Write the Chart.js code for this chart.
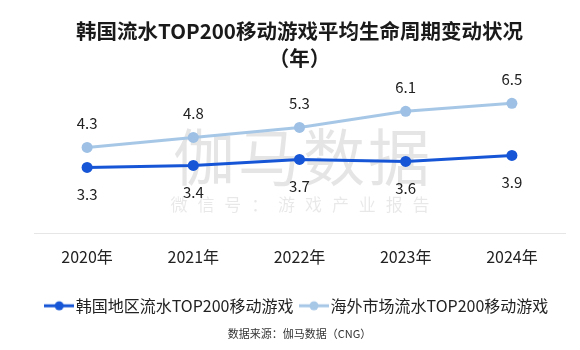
<!DOCTYPE html>
<html>
<head>
<meta charset="utf-8">
<script src="https://cdn.jsdelivr.net/npm/chart.js@4/dist/chart.umd.min.js"></script>
<style>
  html, body { margin: 0; padding: 0; background: #fff; }
  canvas { display: block; }
</style>
</head>
<body>
<canvas id="lifecycleChart" width="580" height="350"></canvas>
<script>
// Average lifecycle (years) of top-200 grossing mobile games
const years = ['2020年', '2021年', '2022年', '2023年', '2024年'];
const koreaTop200 = [3.3, 3.4, 3.7, 3.6, 3.9];
const overseasTop200 = [4.3, 4.8, 5.3, 6.1, 6.5];
const seriesNames = ['韩国地区流水TOP200移动游戏', '海外市场流水TOP200移动游戏'];

const DARK_BLUE = '#1656d6';
const LIGHT_BLUE = '#a7c7e7';
const FONT = '"Noto Sans CJK SC", "Noto Sans", sans-serif';

Chart.defaults.font.family = FONT;
Chart.defaults.color = '#222';

// line-with-dot marker used in the legend
function legendMarker(color) {
    const c = document.createElement('canvas');
    c.width = 30;
    c.height = 12;
    const g = c.getContext('2d');
    g.strokeStyle = color;
    g.lineWidth = 3;
    g.beginPath();
    g.moveTo(0, 6);
    g.lineTo(30, 6);
    g.stroke();
    g.fillStyle = color;
    g.beginPath();
    g.arc(15, 6, 4.5, 0, Math.PI * 2);
    g.fill();
    return c;
}

// faint brand watermark behind the lines
const watermark = {
    id: 'watermark',
    beforeDatasetsDraw(chart) {
        const ctx = chart.ctx;
        ctx.save();
        ctx.textAlign = 'center';
        ctx.textBaseline = 'middle';
        ctx.fillStyle = 'rgba(0, 0, 0, 0.10)';
        ctx.font = '62px ' + FONT;
        const big = '伽马数据';
        for (let i = 0; i < big.length; i++) {
            ctx.fillText(big[i], 204 + i * 65, 157);
        }
        ctx.fillStyle = 'rgba(0, 0, 0, 0.09)';
        ctx.font = '17px ' + FONT;
        const small = '微信号：游戏产业报告';
        for (let i = 0; i < small.length; i++) {
            ctx.fillText(small[i], 179 + i * 26.9, 205);
        }
        ctx.restore();
    }
};

// value labels above / below each point
const valueLabels = {
    id: 'valueLabels',
    afterDatasetsDraw(chart) {
        const ctx = chart.ctx;
        ctx.save();
        ctx.font = '15px ' + FONT;
        ctx.fillStyle = '#222';
        ctx.textAlign = 'center';
        ctx.textBaseline = 'middle';
        chart.data.datasets.forEach((ds, i) => {
            const meta = chart.getDatasetMeta(i);
            meta.data.forEach((pt, j) => {
                ctx.fillText(ds.data[j].toFixed(1), pt.x, pt.y + ds.labelOffset);
            });
        });
        ctx.restore();
    }
};

const markers = [legendMarker(DARK_BLUE), legendMarker(LIGHT_BLUE)];

new Chart(document.getElementById('lifecycleChart'), {
    type: 'line',
    data: {
        labels: years,
        datasets: [{
            label: seriesNames[0],
            data: koreaTop200,
            borderColor: DARK_BLUE,
            backgroundColor: DARK_BLUE,
            borderWidth: 3,
            pointRadius: 5.5,
            pointBorderWidth: 0,
            pointBackgroundColor: DARK_BLUE,
            labelOffset: 27,
            clip: false
        }, {
            label: seriesNames[1],
            data: overseasTop200,
            borderColor: LIGHT_BLUE,
            backgroundColor: LIGHT_BLUE,
            borderWidth: 3,
            pointRadius: 5.5,
            pointBorderWidth: 0,
            pointBackgroundColor: '#9dc0e4',
            labelOffset: -24,
            clip: false
        }]
    },
    options: {
        responsive: false,
        animation: false,
        layout: {
            padding: { left: 34, right: 15, top: 0, bottom: 10 }
        },
        plugins: {
            title: {
                display: true,
                text: ['韩国流水TOP200移动游戏平均生命周期变动状况', '（年）'],
                color: '#1a1a1a',
                font: { size: 20.5, weight: 'bold', lineHeight: 1.3 },
                padding: { top: 18, bottom: 12 }
            },
            subtitle: {
                display: true,
                position: 'bottom',
                text: '数据来源：伽马数据（CNG）',
                color: '#333',
                font: { size: 11 },
                padding: { top: 3, bottom: 0 }
            },
            legend: {
                position: 'bottom',
                labels: {
                    usePointStyle: true,
                    pointStyleWidth: 17,
                    boxHeight: 12,
                    padding: 12,
                    color: '#222',
                    font: { size: 16 },
                    generateLabels(chart) {
                        return Chart.defaults.plugins.legend.labels.generateLabels(chart)
                            .map(item => ({ ...item, pointStyle: markers[item.datasetIndex] }));
                    }
                }
            },
            tooltip: { enabled: false }
        },
        scales: {
            x: {
                offset: true,
                grid: { display: false, drawTicks: false },
                border: { display: true, color: '#e6e6e6', width: 1 },
                ticks: {
                    padding: 14,
                    color: '#222',
                    font: { size: 16 }
                },
                afterFit(scale) {
                    scale.height += 5;
                }
            },
            y: {
                display: false,
                min: 0,
                max: 7.5
            }
        }
    },
    plugins: [watermark, valueLabels]
});
</script>
</body>
</html>
